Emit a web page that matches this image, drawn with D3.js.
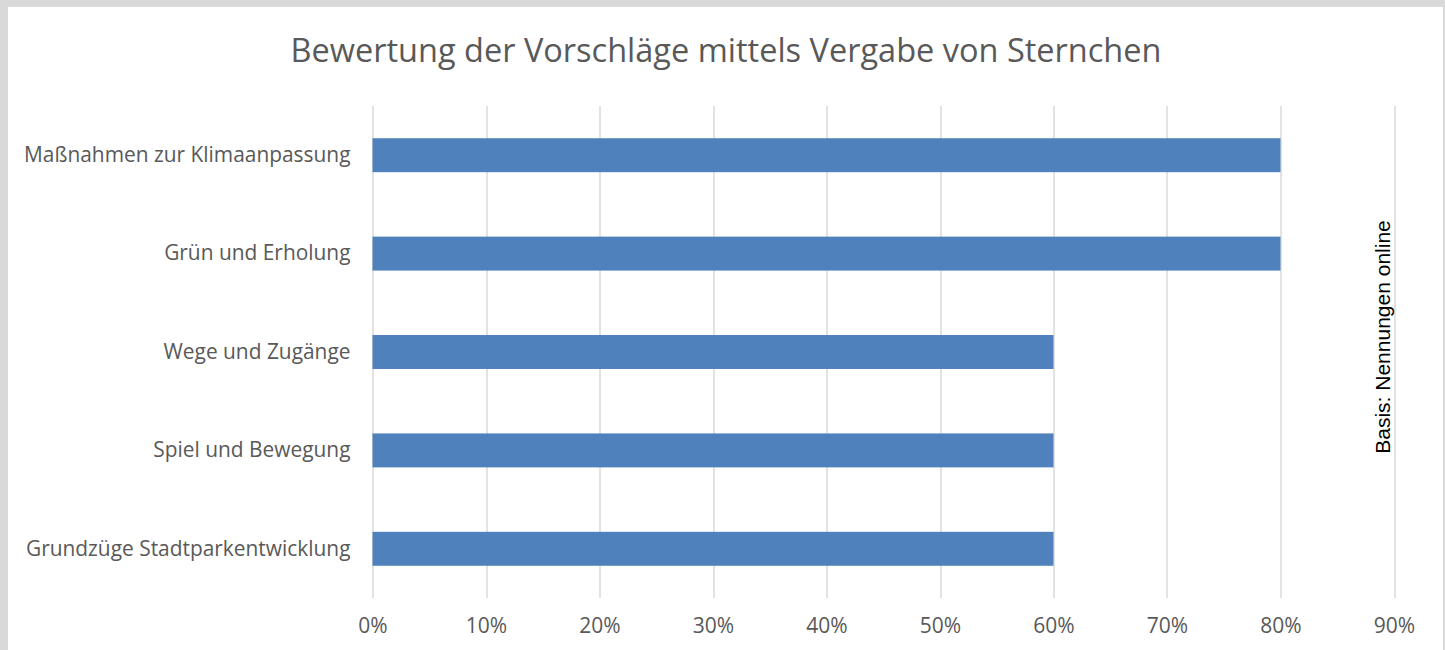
<!DOCTYPE html>
<html>
<head>
<meta charset="utf-8">
<script src="https://cdn.jsdelivr.net/npm/d3@7"></script>
<style>
  body { margin: 0; background: #fff; }
  svg { display: block; }
</style>
</head>
<body>
<div id="chart"></div>
<script>
// chart data
const categories = [
    "Maßnahmen zur Klimaanpassung",
    "Grün und Erholung",
    "Wege und Zugänge",
    "Spiel und Bewegung",
    "Grundzüge Stadtparkentwicklung"
];
const values = [0.8, 0.8, 0.6, 0.6, 0.6];
const tickValues = [0, 0.1, 0.2, 0.3, 0.4, 0.5, 0.6, 0.7, 0.8, 0.9];
const titleText = "Bewertung der Vorschläge mittels Vergabe von Sternchen";
const sideNote = "Basis: Nennungen online";

const fullWidth = 1445;
const fullHeight = 650;
const margin = { top: 106, right: 51, bottom: 52, left: 372.5 };
const width = fullWidth - margin.left - margin.right;
const height = fullHeight - margin.top - margin.bottom;

const labelFont = "'Open Sans', sans-serif";

const svg = d3.select("#chart").append("svg")
    .attr("width", fullWidth)
    .attr("height", fullHeight);

// gray frame like the exported office chart
svg.append("rect")
    .attr("width", fullWidth)
    .attr("height", fullHeight)
    .attr("fill", "#d9d9d9");
svg.append("rect")
    .attr("x", 8)
    .attr("y", 7)
    .attr("width", fullWidth - 8 - 2)
    .attr("height", fullHeight)
    .attr("fill", "#ffffff");

svg.append("text")
    .attr("x", 726)
    .attr("y", 62)
    .attr("text-anchor", "middle")
    .style("font-family", labelFont)
    .style("font-size", "32.5px")
    .style("fill", "#595959")
    .text(titleText);

const g = svg.append("g")
    .attr("transform", `translate(${margin.left},${margin.top})`);

const x = d3.scaleLinear().domain([0, 0.9]).range([0, width]);
const y = d3.scaleBand().domain(categories).range([0, height])
    .paddingInner(0.655).paddingOuter(0.3275);

// vertical gridlines
g.selectAll(".grid")
    .data(tickValues)
    .join("line")
    .attr("class", "grid")
    .attr("x1", d => Math.round(x(d)) + 0.5)
    .attr("x2", d => Math.round(x(d)) + 0.5)
    .attr("y1", 0)
    .attr("y2", height)
    .attr("stroke", "#d9d9d9")
    .attr("stroke-width", 1.5);

const xAxis = d3.axisBottom(x)
    .tickValues(tickValues)
    .tickFormat(d3.format(".0%"))
    .tickSize(0)
    .tickPadding(20);

const gX = g.append("g")
    .attr("transform", `translate(0,${height})`)
    .call(xAxis);
gX.select(".domain").remove();
gX.selectAll("text")
    .style("font-family", labelFont)
    .style("font-size", "21px")
    .style("fill", "#595959");

const yAxis = d3.axisLeft(y).tickSize(0).tickPadding(22);
const gY = g.append("g").call(yAxis);
gY.select(".domain").remove();
gY.selectAll("text")
    .style("font-family", labelFont)
    .style("font-size", "20.9px")
    .style("fill", "#595959");

g.selectAll(".bar")
    .data(categories)
    .join("rect")
    .attr("class", "bar")
    .attr("x", x(0))
    .attr("y", d => y(d))
    .attr("width", (d, i) => x(values[i]) - x(0))
    .attr("height", y.bandwidth())
    .attr("fill", "#4f81bd");

svg.append("text")
    .attr("transform", "translate(1390,337) rotate(-90)")
    .attr("text-anchor", "middle")
    .style("font-family", "'Liberation Sans', Arial, sans-serif")
    .style("font-size", "21px")
    .style("fill", "#000")
    .text(sideNote);
</script>
</body>
</html>
